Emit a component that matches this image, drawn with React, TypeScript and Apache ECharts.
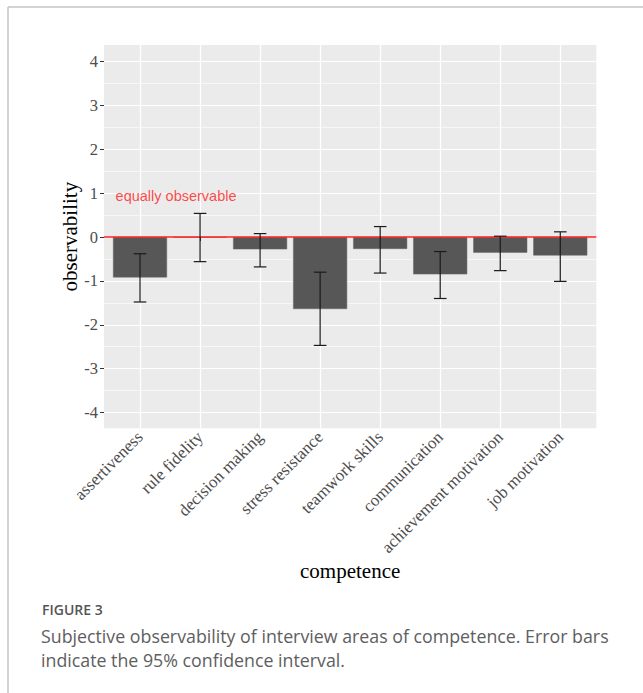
import React, { useEffect, useRef } from "react";
import * as echarts from "echarts";

const categories = [
  "assertiveness",
  "rule fidelity",
  "decision making",
  "stress resistance",
  "teamwork skills",
  "communication",
  "achievement motivation",
  "job motivation",
];
const means = [-0.92, -0.01, -0.28, -1.64, -0.27, -0.85, -0.355, -0.42];
const ciLower = [-1.48, -0.56, -0.68, -2.47, -0.82, -1.4, -0.765, -1.01];
const ciUpper = [-0.38, 0.54, 0.08, -0.8, 0.24, -0.33, 0.02, 0.12];
const yTicks = [-4, -3, -2, -1, 0, 1, 2, 3, 4];
const xTicks = [1, 2, 3, 4, 5, 6, 7, 8];
const refLineValue = 0;
const refLabel = "equally observable";
const refLabelPos = [1.6, 0.94];
const yTitle = "observability";
const xTitle = "competence";
const figureLabel = "FIGURE 3";
const captionLines = [
  "Subjective observability of interview areas of competence. Error bars",
  "indicate the 95% confidence interval.",
];

const SERIF = "'Liberation Serif', 'Times New Roman', serif";
const SANS = "'Liberation Sans', Arial, sans-serif";
const CAPTION = "'Open Sans', 'Noto Sans', sans-serif";

export default function App() {
  const ref = useRef<HTMLDivElement>(null);
  useEffect(() => {
    if (!ref.current) return;
    const chart = echarts.init(ref.current, undefined, { renderer: "svg" });
    const barData = means.map((v, i) => [i + 1, v]);
    const errData = means.map((_, i) => [i + 1, ciLower[i], ciUpper[i]]);
    const option: any = {
      animation: false,
      backgroundColor: "#ffffff",
      grid: {
        left: 104,
        right: 46.7,
        top: 45,
        height: 383.3,
        show: true,
        backgroundColor: "#ebebeb",
        borderWidth: 0,
      },
      xAxis: {
        type: "value",
        min: 0.4,
        max: 8.6,
        minInterval: 1,
        maxInterval: 1,
        axisLine: { show: false },
        axisTick: {
          show: true,
          customValues: xTicks,
          length: 4,
          lineStyle: { color: "#333333", width: 1 },
        },
        axisLabel: {
          customValues: xTicks,
          rotate: 45,
          margin: 6,
          fontFamily: SERIF,
          fontSize: 17,
          color: "#4d4d4d",
          formatter: (v: number) => categories[Math.round(v) - 1] ?? "",
        },
        splitLine: { show: true, lineStyle: { color: "#ffffff", width: 1.2 } },
        name: xTitle,
        nameLocation: "middle",
        nameGap: 132,
        nameMoveOverlap: false,
        nameTextStyle: { fontFamily: SERIF, fontSize: 21, color: "#000000" },
      },
      yAxis: {
        type: "value",
        min: -4.36,
        max: 4.38,
        minInterval: 1,
        maxInterval: 1,
        axisLine: { show: false },
        axisTick: {
          show: true,
          customValues: yTicks,
          length: 4,
          lineStyle: { color: "#333333", width: 1 },
        },
        axisLabel: {
          customValues: yTicks,
          margin: 6,
          fontFamily: SERIF,
          fontSize: 16.5,
          color: "#4d4d4d",
          formatter: (v: number) => String(v),
        },
        splitLine: { show: true, lineStyle: { color: "#ffffff", width: 1.2 } },
        minorTick: { show: false, splitNumber: 2 },
        minorSplitLine: { show: true, lineStyle: { color: "#ffffff", width: 0.6 } },
        name: yTitle,
        nameLocation: "middle",
        nameGap: 24,
        nameMoveOverlap: false,
        nameTextStyle: { fontFamily: SERIF, fontSize: 21, color: "#000000" },
      },
      series: [
        {
          type: "bar",
          data: barData,
          barWidth: 54,
          itemStyle: { color: "#575757", borderColor: "#666666", borderWidth: 0.5 },
          z: 2,
          markLine: {
            silent: true,
            symbol: ["none", "none"],
            label: { show: false },
            lineStyle: { color: "#ff2020", width: 1.5, type: "solid" },
            data: [{ yAxis: refLineValue }],
          },
        },
        {
          type: "custom",
          data: errData,
          encode: { x: 0, y: [1, 2] },
          z: 6,
          renderItem: (params: any, api: any) => {
            const x = api.value(0);
            const lo = api.value(1);
            const hi = api.value(2);
            const pLo = api.coord([x, lo]);
            const pHi = api.coord([x, hi]);
            const hw = api.size([0.21, 0])[0] / 2;
            const style = { stroke: "#1a1a1a", lineWidth: 1.2 };
            return {
              type: "group",
              children: [
                { type: "line", shape: { x1: pLo[0], y1: pLo[1], x2: pHi[0], y2: pHi[1] }, style },
                { type: "line", shape: { x1: pLo[0] - hw, y1: pLo[1], x2: pLo[0] + hw, y2: pLo[1] }, style },
                { type: "line", shape: { x1: pHi[0] - hw, y1: pHi[1], x2: pHi[0] + hw, y2: pHi[1] }, style },
              ],
            };
          },
        },
        {
          type: "scatter",
          data: [refLabelPos],
          symbolSize: 0,
          silent: true,
          z: 7,
          label: {
            show: true,
            position: "inside",
            formatter: refLabel,
            fontFamily: SANS,
            fontSize: 14.5,
            color: "#ff1a1a",
          },
        },
      ],
      graphic: [
        { type: "line", shape: { x1: 8, y1: 7, x2: 643, y2: 7 }, style: { stroke: "#c4c4c4", lineWidth: 1.5 } },
        { type: "line", shape: { x1: 8, y1: 7, x2: 8, y2: 693 }, style: { stroke: "#c4c4c4", lineWidth: 1.5 } },
        {
          type: "text",
          x: 42,
          y: 609,
          style: {
            text: figureLabel,
            font: `600 14px ${CAPTION}`,
            fill: "#555555",
            verticalAlign: "middle",
          },
        },
        {
          type: "text",
          x: 41,
          y: 636,
          style: {
            text: captionLines[0],
            font: `17.8px ${CAPTION}`,
            fill: "#5e5e5e",
            verticalAlign: "middle",
          },
        },
        {
          type: "text",
          x: 41,
          y: 660,
          style: {
            text: captionLines[1],
            font: `17.8px ${CAPTION}`,
            fill: "#5e5e5e",
            verticalAlign: "middle",
          },
        },
      ],
    };
    chart.setOption(option);
    return () => chart.dispose();
  }, []);
  return (
    <div style={{ position: "absolute", left: 0, top: 0, width: 643, height: 693 }}>
      <div ref={ref} style={{ width: 643, height: 693 }} />
    </div>
  );
}
